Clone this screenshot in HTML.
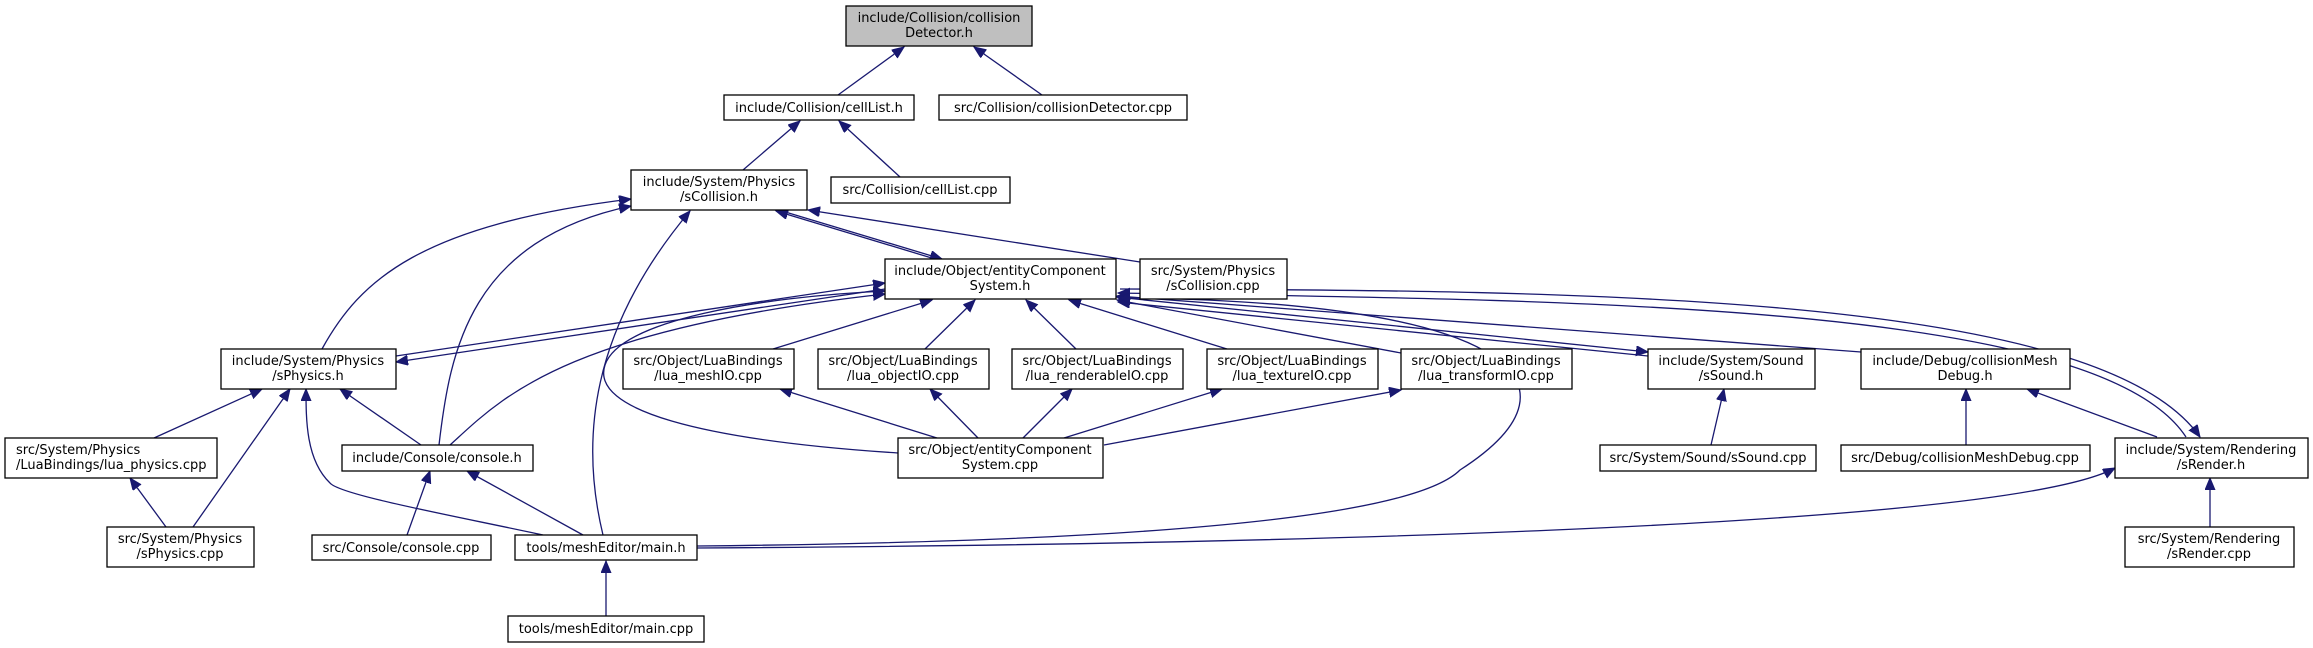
<!DOCTYPE html>
<html><head><meta charset="utf-8"><style>
html,body{margin:0;padding:0;background:#fff;}
svg{display:block}
text{font-family:"DejaVu Sans","Liberation Sans",sans-serif;font-size:13px;fill:#000;text-anchor:middle}
rect{fill:#fff;stroke:#000;stroke-width:1.3}
path{fill:none;stroke:#191970;stroke-width:1.3}
</style></head><body>
<svg width="2313" height="648" viewBox="0 0 2313 648" xmlns="http://www.w3.org/2000/svg">
<defs>
<marker id="a" markerUnits="userSpaceOnUse" markerWidth="14" markerHeight="12" refX="12" refY="5" orient="auto">
<path d="M0,0 L12,5 L0,10 Z" style="fill:#191970;stroke:#191970;stroke-width:1"/>
</marker>
</defs>
<g marker-end="url(#a)">
<path d="M838,95 L904,47"/>
<path d="M1042,95 L974,47"/>
<path d="M743,170 L800,121"/>
<path d="M900,177 L839,121"/>
<path d="M935,259 L776,211"/>
<path d="M782,211 L942,259"/>
<path d="M1140,262 L808,210"/>
<path d="M322,349 C360,280 420,225 631,199"/>
<path d="M439,445 C450,350 470,240 631,206"/>
<path d="M603,535 C580,440 590,330 690,211"/>
<path d="M396,356 L885,283"/>
<path d="M885,289 L396,362"/>
<path d="M450,445 C500,400 560,330 885,294"/>
<path d="M773,349 L932,300"/>
<path d="M925,349 L975,300"/>
<path d="M1076,349 L1026,300"/>
<path d="M1227,349 L1069,300"/>
<path d="M1401,353 L1117,300"/>
<path d="M898,453 C700,440 590,410 605,365 C620,320 760,297 885,291"/>
<path d="M1116,297 L1648,352"/>
<path d="M1648,356 L1118,302"/>
<path d="M1861,352 L1117,296"/>
<path d="M1120,289 C1600,290 2100,295 2200,437"/>
<path d="M2186,437 C2100,305 1600,300 1118,293"/>
<path d="M697,546 C1000,543 1400,530 1460,470 C1600,380 1500,300 1118,298"/>
<path d="M697,548 C1200,545 2000,530 2115,468"/>
<path d="M937,438 L780,389"/>
<path d="M978,438 L930,389"/>
<path d="M1023,438 L1072,389"/>
<path d="M1064,438 L1222,389"/>
<path d="M1104,445 L1401,390"/>
<path d="M154,438 L262,389"/>
<path d="M193,527 L290,389"/>
<path d="M166,527 L130,478"/>
<path d="M421,445 L340,389"/>
<path d="M543,535 C450,515 340,495 330,483 C306,460 306,420 306,389"/>
<path d="M407,535 L430,471"/>
<path d="M583,535 L467,471"/>
<path d="M606,616 L606,561"/>
<path d="M1711,445 L1724,389"/>
<path d="M1966,445 L1966,389"/>
<path d="M2157,437 L2027,389"/>
<path d="M2210,527 L2210,478"/>
</g>
<rect x="846" y="6" width="186" height="40" style="fill:#bfbfbf"/>
<text x="939" y="22">include/Collision/collision</text><text x="939" y="37">Detector.h</text>
<rect x="724" y="95" width="190" height="25"/><text x="819" y="112">include/Collision/cellList.h</text>
<rect x="939" y="95" width="248" height="25"/><text x="1063" y="112">src/Collision/collisionDetector.cpp</text>
<rect x="631" y="170" width="176" height="40"/><text x="719" y="186">include/System/Physics</text><text x="719" y="201">/sCollision.h</text>
<rect x="831" y="177" width="179" height="26"/><text x="920" y="194">src/Collision/cellList.cpp</text>
<rect x="885" y="259" width="231" height="40"/><text x="1000" y="275">include/Object/entityComponent</text><text x="1000" y="290">System.h</text>
<rect x="1140" y="259" width="147" height="40"/><text x="1213" y="275">src/System/Physics</text><text x="1213" y="290">/sCollision.cpp</text>
<rect x="221" y="349" width="175" height="40"/><text x="308" y="365">include/System/Physics</text><text x="308" y="380">/sPhysics.h</text>
<rect x="623" y="349" width="171" height="40"/><text x="708" y="365">src/Object/LuaBindings</text><text x="708" y="380">/lua_meshIO.cpp</text>
<rect x="818" y="349" width="171" height="40"/><text x="903" y="365">src/Object/LuaBindings</text><text x="903" y="380">/lua_objectIO.cpp</text>
<rect x="1012" y="349" width="171" height="40"/><text x="1097" y="365">src/Object/LuaBindings</text><text x="1097" y="380">/lua_renderableIO.cpp</text>
<rect x="1207" y="349" width="171" height="40"/><text x="1292" y="365">src/Object/LuaBindings</text><text x="1292" y="380">/lua_textureIO.cpp</text>
<rect x="1401" y="349" width="171" height="40"/><text x="1486" y="365">src/Object/LuaBindings</text><text x="1486" y="380">/lua_transformIO.cpp</text>
<rect x="1648" y="349" width="167" height="40"/><text x="1731" y="365">include/System/Sound</text><text x="1731" y="380">/sSound.h</text>
<rect x="1861" y="349" width="209" height="40"/><text x="1965" y="365">include/Debug/collisionMesh</text><text x="1965" y="380">Debug.h</text>
<rect x="5" y="438" width="212" height="40"/><text x="111" y="454" style="text-anchor:start" transform="translate(-95,0)">src/System/Physics</text><text x="111" y="469" style="text-anchor:start" transform="translate(-95,0)">/LuaBindings/lua_physics.cpp</text>
<rect x="342" y="445" width="191" height="26"/><text x="437" y="462">include/Console/console.h</text>
<rect x="898" y="438" width="205" height="40"/><text x="1000" y="454">src/Object/entityComponent</text><text x="1000" y="469">System.cpp</text>
<rect x="1600" y="445" width="216" height="26"/><text x="1708" y="462">src/System/Sound/sSound.cpp</text>
<rect x="1841" y="445" width="249" height="26"/><text x="1965" y="462">src/Debug/collisionMeshDebug.cpp</text>
<rect x="2115" y="438" width="193" height="40"/><text x="2211" y="454">include/System/Rendering</text><text x="2211" y="469">/sRender.h</text>
<rect x="107" y="527" width="147" height="40"/><text x="180" y="543">src/System/Physics</text><text x="180" y="558">/sPhysics.cpp</text>
<rect x="312" y="535" width="179" height="25"/><text x="401" y="552">src/Console/console.cpp</text>
<rect x="515" y="535" width="182" height="25"/><text x="606" y="552">tools/meshEditor/main.h</text>
<rect x="2125" y="527" width="169" height="40"/><text x="2209" y="543">src/System/Rendering</text><text x="2209" y="558">/sRender.cpp</text>
<rect x="508" y="616" width="196" height="26"/><text x="606" y="633">tools/meshEditor/main.cpp</text>
</svg>
</body></html>
